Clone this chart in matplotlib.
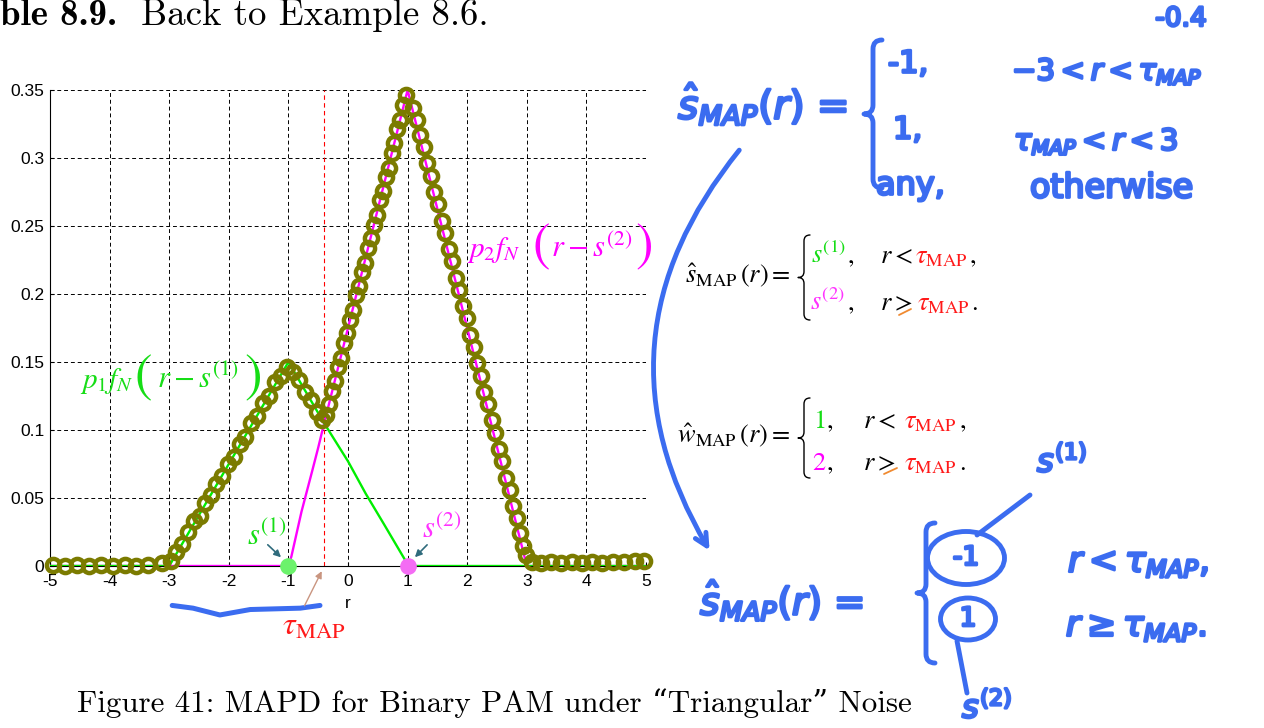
import matplotlib
matplotlib.use("Agg")
import matplotlib.pyplot as plt
import matplotlib.patheffects as pe
from matplotlib.path import Path
from matplotlib.patches import PathPatch, FancyArrowPatch, Ellipse
from matplotlib.lines import Line2D

plt.rcParams["font.family"] = ["Liberation Sans", "DejaVu Sans"]

W, H = 1264, 728

# ---- values ----
# p1*fN(r - s1), green line
r_green = [-5, -3, -1, -0.4, 0.0, 0.3, 0.6, 0.95, 1, 3, 5]
p1_fN = [0, 0, 0.15, 0.105, 0.077, 0.053, 0.031, 0.005, 0, 0, 0]
# p2*fN(r - s2), magenta line
r_mag = [-5, -3, -1, -0.95, -0.78, -0.6, -0.5, -0.4, 1, 3, 5]
p2_fN = [0, 0, 0, 0.007, 0.040, 0.070, 0.087, 0.105, 0.35, 0, 0]
tau_map = -0.4
s1, s2 = -1, 1

# hand-drawn olive loops tracing the max of the two curves
loop_r = [-4.95, -4.74, -4.54, -4.34, -4.14, -3.94, -3.74, -3.55, -3.36, -3.12,
          -2.97, -2.88, -2.78, -2.68, -2.58, -2.49, -2.40, -2.30, -2.21, -2.11,
          -2.02, -1.92, -1.82, -1.72, -1.62, -1.52, -1.42, -1.32, -1.22, -1.12, -1.02,
          -0.92, -0.82, -0.72, -0.62, -0.52, -0.44,
          -0.37, -0.32, -0.27, -0.22, -0.17, -0.12, -0.07, -0.02, 0.03, 0.08,
          0.13, 0.18, 0.23, 0.28, 0.33, 0.38, 0.43, 0.48, 0.53, 0.58,
          0.63, 0.68, 0.73, 0.78, 0.83, 0.88, 0.93, 0.98,
          1.09, 1.15, 1.21, 1.27, 1.33, 1.39, 1.45, 1.51, 1.57, 1.63,
          1.69, 1.75, 1.81, 1.87, 1.93, 1.99, 2.05, 2.11, 2.17, 2.23,
          2.29, 2.35, 2.41, 2.47, 2.53, 2.59, 2.65, 2.71, 2.77, 2.83,
          2.88, 2.94, 2.99,
          3.08, 3.24, 3.41, 3.58, 3.75, 3.92, 4.09, 4.27, 4.45, 4.63, 4.81, 4.97]
loop_p = [0.001, 0.000, 0.001, 0.000, 0.001, 0.000, 0.001, 0.000, 0.001, 0.002,
          0.004, 0.010, 0.016, 0.025, 0.033, 0.037, 0.046, 0.052, 0.060, 0.066,
          0.075, 0.080, 0.090, 0.095, 0.105, 0.110, 0.120, 0.125, 0.135, 0.140, 0.146,
          0.143, 0.137, 0.128, 0.122, 0.113, 0.107,
          0.111, 0.119, 0.129, 0.136, 0.146, 0.153, 0.164, 0.171, 0.181, 0.188,
          0.199, 0.206, 0.216, 0.223, 0.234, 0.241, 0.251, 0.258, 0.269, 0.276,
          0.286, 0.293, 0.304, 0.311, 0.321, 0.328, 0.339, 0.346,
          0.337, 0.328, 0.317, 0.308, 0.296, 0.287, 0.275, 0.266, 0.254, 0.245,
          0.233, 0.224, 0.212, 0.203, 0.191, 0.182, 0.170, 0.161, 0.149, 0.140,
          0.128, 0.119, 0.107, 0.098, 0.086, 0.077, 0.065, 0.056, 0.044, 0.035,
          0.024, 0.015, 0.008,
          0.003, 0.002, 0.003, 0.002, 0.003, 0.002, 0.003, 0.002, 0.003, 0.003, 0.004, 0.004]

xticks = [-5, -4, -3, -2, -1, 0, 1, 2, 3, 4, 5]
xtick_labels = ["-5", "-4", "-3", "-2", "-1", "0", "1", "2", "3", "4", "5"]
yticks = [0, 0.05, 0.1, 0.15, 0.2, 0.25, 0.3, 0.35]
ytick_labels = ["0", "0.05", "0.1", "0.15", "0.2", "0.25", "0.3", "0.35"]

# hand-drawn brace under the axis (tau region)
brace_r = [-2.95, -2.6, -2.15, -1.64, -0.8, -0.47]
brace_p = [-0.029, -0.031, -0.036, -0.032, -0.031, -0.029]

BLUE = "#3b6cf0"
OLIVE = "#7b7b00"
GREEN = "#00ee00"
TGREEN = "#16dd16"
MAG = "#ff00ff"
RED = "#ff1a1a"

fig = plt.figure(figsize=(W / 100, H / 100), dpi=100)


def P(x, y):
    return (x / W, 1 - y / H)


# ---- main axes ----
ax = fig.add_axes([50 / W, 1 - 566 / H, 596 / W, 476 / H])
ax.plot(r_mag, p2_fN, color=MAG, lw=1.7, zorder=3)
ax.plot(r_green, p1_fN, color=GREEN, lw=1.7, zorder=3)
ax.axvline(tau_map, color="red", lw=0.8, ls=(0, (4, 3)), zorder=2)
ax.plot(loop_r, loop_p, ls="none", marker="o", ms=9.5, mfc="none", mec=OLIVE,
        mew=3.2, zorder=4, clip_on=False)
ax.plot([s1], [0], "o", ms=11, color="#6cf26c", zorder=5, clip_on=False)
ax.plot([s2], [0], "o", ms=11, color="#f46cf4", zorder=5, clip_on=False)

ax.set_xlim(-5, 5)
ax.set_ylim(0, 0.35)
ax.set_xticks(xticks, xtick_labels)
ax.set_yticks(yticks, ytick_labels)
ax.grid(True, color="black", ls=(0, (4, 3)), lw=0.7)
ax.set_axisbelow(True)
for s in ["top", "right"]:
    ax.spines[s].set_visible(False)
ax.tick_params(direction="in", length=3, labelsize=12.5)
ax.tick_params(axis="x", pad=6)
ax.tick_params(axis="y", pad=4)
ax.set_xlabel("r", fontsize=12.5, labelpad=5)

arw = dict(arrowstyle="-|>", color="#2f6b7c", lw=1.2, mutation_scale=10)
ax.annotate("", xy=(-1.09, 0.005), xytext=(-1.38, 0.017), arrowprops=arw)
ax.annotate("", xy=(1.09, 0.005), xytext=(1.36, 0.017), arrowprops=arw)
ax.annotate("", xy=(-0.42, -0.002), xytext=(-0.75, -0.031), annotation_clip=False,
            arrowprops=dict(arrowstyle="-|>", color="#c99580", lw=1, mutation_scale=10))
ax.text(-1.1, -0.045, r"$\tau_{\mathrm{MAP}}$", color=RED, fontsize=23,
        math_fontfamily="stix", ha="left", va="center", clip_on=False)
ax.plot(brace_r, brace_p, color=BLUE, lw=3.6, clip_on=False, solid_capstyle="round")


# ---- helpers for the page annotations (pixel positions from the top-left) ----
def hw(x, y, s, size=22, ha="left", va="center"):
    t = fig.text(x / W, 1 - y / H, s, color=BLUE, fontsize=size, ha=ha, va=va,
                 fontfamily="DejaVu Sans", math_fontfamily="dejavusans")
    t.set_path_effects([pe.withStroke(linewidth=2.0, foreground=BLUE)])
    return t


def tx(x, y, s, color="black", size=19, ha="left", va="baseline"):
    return fig.text(x / W, 1 - y / H, s, color=color, fontsize=size, ha=ha,
                    va=va, math_fontfamily="stix")


def brace(x, y0, y1, w, color, lw):
    m = (y0 + y1) / 2
    pts = [(x + w, y0), (x, y0), (x, y0 + w), (x, m - w), (x, m), (x - w, m),
           (x, m), (x, m + w), (x, y1 - w), (x, y1), (x + w, y1)]
    codes = [Path.MOVETO, Path.CURVE3, Path.CURVE3, Path.LINETO, Path.CURVE3,
             Path.CURVE3, Path.CURVE3, Path.CURVE3, Path.LINETO, Path.CURVE3, Path.CURVE3]
    fig.add_artist(PathPatch(Path([P(a, b) for a, b in pts], codes), fill=False,
                             ec=color, lw=lw, transform=fig.transFigure,
                             capstyle="round", joinstyle="round"))


def seg(x0, y0, x1, y1, color, lw):
    (a, b), (c, d) = P(x0, y0), P(x1, y1)
    fig.add_artist(Line2D([a, c], [b, d], color=color, lw=lw, transform=fig.transFigure,
                          solid_capstyle="round"))


# curve labels with tall parentheses
tx(80, 388, r"$p_1 f_N$", TGREEN, 21)
tx(143, 378, r"$($", TGREEN, 38, ha="center", va="center")
tx(157, 388, r"$r - s^{(1)}$", TGREEN, 22)
tx(252, 378, r"$)$", TGREEN, 38, ha="center", va="center")
tx(467, 257, r"$p_2 f_N$", MAG, 21)
tx(541, 247, r"$($", MAG, 38, ha="center", va="center")
tx(551, 257, r"$r - s^{(2)}$", MAG, 22)
tx(643, 247, r"$)$", MAG, 38, ha="center", va="center")
tx(247, 545, r"$s^{(1)}$", TGREEN, 22)
tx(422, 538, r"$s^{(2)}$", "#ff33ff", 22)

# ---- header and caption ----
fig.text(0, 1 - 25 / H, "ble 8.9.", fontfamily="cmb10", fontsize=26.5, va="baseline")
fig.text(141 / W, 1 - 25 / H, "Back to Example 8.6.", fontfamily="cmr10", fontsize=26.5,
         va="baseline")
fig.text(77 / W, 1 - 712 / H, "Figure 41: MAPD for Binary PAM under \u201cTriangular\u201d Noise",
         fontfamily=["cmr10", "DejaVu Serif"], fontsize=22.3, va="baseline")

# ---- typeset equations ----
tx(790, 283, r"$\hat{s}_{\mathrm{MAP}}\,(r) =$", ha="right")
brace(804, 235, 320, 6, "black", 1.0)
tx(811, 263, r"$s^{(1)}$", TGREEN)
tx(847, 263, r"$,$")
tx(880, 263, r"$r <$")
tx(915, 263, r"$\tau_{\mathrm{MAP}}$", RED)
tx(969, 263, r"$,$")
tx(810, 310, r"$s^{(2)}$", "#ff33ff")
tx(847, 310, r"$,$")
tx(880, 310, r"$r >$")
seg(899, 315, 911, 309, "#f08a30", 1.3)
tx(917, 310, r"$\tau_{\mathrm{MAP}}$", RED)
tx(971, 310, r"$.$")

tx(790, 443, r"$\hat{w}_{\mathrm{MAP}}\,(r) =$", ha="right")
brace(804, 398, 478, 6, "black", 1.0)
tx(813, 428, r"$1$", TGREEN)
tx(826, 428, r"$,$")
tx(863, 428, r"$r <$")
tx(904, 428, r"$\tau_{\mathrm{MAP}}$", RED)
tx(959, 428, r"$,$")
tx(812, 470, r"$2$", MAG)
tx(826, 470, r"$,$")
tx(863, 470, r"$r >$")
seg(884, 474, 897, 468, "#f08a30", 1.3)
tx(904, 470, r"$\tau_{\mathrm{MAP}}$", RED)
tx(959, 470, r"$.$")

# ---- handwritten notes (top) ----
hw(1181, 19, "-0.4", 19, ha="center")
hw(678, 104, r"$\hat{s}_{MAP}(r)$ =", 28)
brace(873, 40, 188, 9, BLUE, 3.5)
hw(888, 64, "-1,", 22)
hw(1012, 72, r"$-3 < r < \tau_{MAP}$", 21)
hw(893, 130, "1,", 22)
hw(1014, 142, r"$\tau_{MAP} < r < 3$", 21)
hw(876, 186, "any,", 23)
hw(1030, 188, "otherwise", 24)

fig.add_artist(FancyArrowPatch(P(741, 148), P(711, 553), connectionstyle="arc3,rad=0.35",
                               arrowstyle="->", mutation_scale=22, lw=3.5, color=BLUE,
                               transform=fig.transFigure))

# ---- handwritten notes (bottom) ----
hw(700, 600, r"$\hat{s}_{MAP}(r)$ =", 27)
brace(926, 523, 663, 9, BLUE, 3.5)
for (x, y, w, h), s in [((966, 558, 77, 53), "-1"), ((968, 619, 55, 42), "1")]:
    fig.add_artist(Ellipse(P(x, y), w / W, h / H, fill=False, ec=BLUE, lw=3.5,
                           transform=fig.transFigure))
    hw(x, y, s, 19, ha="center")
seg(977, 535, 1030, 495, BLUE, 3.5)
hw(1037, 462, r"$s^{(1)}$", 23)
seg(957, 641, 967, 693, BLUE, 3.5)
hw(962, 708, r"$s^{(2)}$", 23)
hw(1068, 563, r"$r < \tau_{MAP},$", 25)
hw(1066, 627, r"$r \geq \tau_{MAP}.$", 25)

fig.savefig("out.png", dpi=100)
